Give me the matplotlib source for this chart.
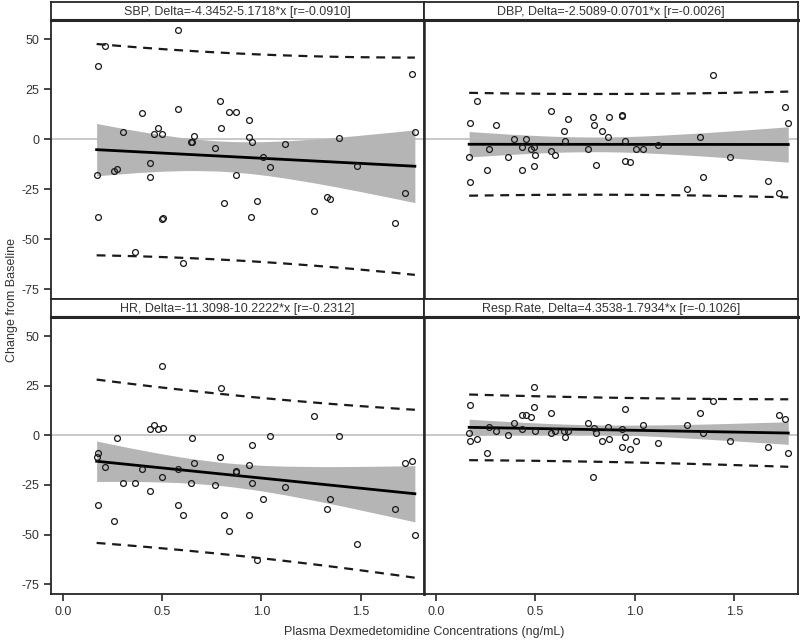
import numpy as np
import matplotlib
matplotlib.use('Agg')
import matplotlib.pyplot as plt

plt.rcParams['axes.unicode_minus'] = False
plt.rcParams['font.family'] = ['Liberation Sans', 'DejaVu Sans']

# panel titles and fitted coefficients
names  = ['SBP', 'DBP', 'HR', 'Resp.Rate']
b0s    = [-4.3452, -2.5089, -11.3098, 4.3538]
b1s    = [-5.1718, -0.0701, -10.2222, -1.7934]
rs     = [-0.0910, -0.0026, -0.2312, -0.1026]

# data
sbp_x = [0.582,0.212,0.175,1.758,0.791,0.579,0.837,0.874,0.397,0.938,0.481,0.796,0.303,0.458,0.498,
         0.663,0.938,1.394,1.774,0.646,0.652,0.955,1.12,0.768,1.008,1.044,1.483,0.438,0.17,0.87,
         0.271,0.259,0.438,1.726,1.33,1.347,0.978,0.81,1.266,0.175,0.502,0.498,0.949,1.673,0.364,0.603]
sbp_y = [54.5,46.5,36.5,32.5,19,15,13.7,13.7,13,9.8,5.7,5.7,3.7,2.8,2.8,
         1.7,1,0.8,3.7,-1.2,-1.2,-1.2,-2.3,-4.3,-9,-13.8,-13.2,-11.8,-17.8,-17.8,
         -15,-15.8,-19,-27,-29,-30,-31,-31.8,-35.8,-39,-39.2,-40,-39,-41.8,-56.7,-61.8]

dbp_x = [1.391,0.207,1.756,0.576,0.662,0.79,0.87,0.934,0.934,0.17,0.301,0.793,1.771,0.645,0.833,
         0.867,1.328,0.394,0.455,0.648,0.951,1.116,0.268,0.434,0.478,0.495,0.766,1.005,1.04,0.579,
         0.599,0.498,0.167,0.36,1.48,0.948,0.975,0.806,0.495,0.256,0.434,1.343,1.67,0.17,1.263,1.722]
dbp_y = [32,19.3,16,14,10,11.3,11.3,12,11.7,8.2,7.3,7.3,8.2,4,4,
         1.3,1.3,0,0,-0.7,-0.7,-2.8,-4.7,-4,-4.7,-4,-4.7,-4.7,-4.7,-6,
         -8,-8,-8.7,-8.7,-8.7,-10.8,-11.5,-12.7,-13.5,-15.5,-15.5,-18.7,-20.7,-21.5,-24.7,-26.7]

hr_x = [0.498,0.796,1.266,0.438,0.458,0.481,0.502,0.271,0.652,1.044,1.394,0.951,0.175,0.17,0.791,
        1.726,1.758,0.212,0.938,0.663,0.397,0.579,0.874,0.87,0.498,0.303,0.364,0.646,0.955,0.768,
        1.12,0.438,1.008,1.347,0.175,0.582,1.33,1.673,0.603,0.81,0.938,0.259,0.837,1.774,1.483,0.978]
hr_y = [34.9,23.8,9.9,3,5,3,3.7,-1.2,-1.2,-0.3,-0.3,-5,-9,-11,-11,
        -14,-13,-15.8,-15.1,-14,-17,-17,-17.8,-18.5,-21,-24,-24,-24,-24,-25.2,
        -26,-28,-32,-32,-35.2,-35.2,-37.2,-37.2,-40,-40,-40,-43.3,-48.2,-50.2,-55,-63]

rr_x = [0.495,0.17,0.495,0.948,0.576,1.328,0.434,0.455,0.478,1.391,1.722,1.756,0.394,0.766,1.04,
        1.263,0.268,0.867,0.793,0.934,0.434,0.301,0.498,0.599,0.579,0.645,0.662,0.806,1.343,0.167,
        0.36,0.648,0.951,0.17,0.207,0.833,0.87,1.005,1.48,1.116,0.934,0.975,1.67,0.256,1.771,0.79]
rr_y = [24.2,15.4,14.1,13.4,11.4,11.4,10.1,10.1,9.4,17.4,10.1,8.1,6,6,5.4,
        5.4,4,4,3.5,3.4,3.4,2,2,2,1.3,2,2,1.3,1.3,1.3,
        0,-0.7,-0.7,-2.7,-2,-2.7,-2,-2.7,-2.7,-4,-6,-6.7,-6,-8.7,-8.7,-20.8]

xs = [sbp_x, dbp_x, hr_x, rr_x]
ys = [sbp_y, dbp_y, hr_y, rr_y]

W, H = 800, 644
fig = plt.figure(figsize=(W/100, H/100), dpi=100)

# pixel boxes of the columns / rows
cols = [(51, 424), (424, 798)]
rows = [(2, 20, 299), (299, 317, 594)]   # header top, plot top, plot bottom
edge = '#262626'
tcol = '#333333'

for k in range(4):
    r, c = divmod(k, 2)
    x0, x1 = cols[c]
    ht, pt, pb = rows[r]
    # header strip
    hax = fig.add_axes([x0/W, 1-pt/H, (x1-x0)/W, (pt-ht)/H])
    hax.set_xticks([]); hax.set_yticks([])
    for s in hax.spines.values():
        s.set_linewidth(1.3); s.set_color(edge)
    hax.spines['bottom'].set_linewidth(2.2)
    hax.text(0.5, 0.45, '%s, Delta=%.4f%+.4f*x [r=%.4f]' % (names[k], b0s[k], b1s[k], rs[k]),
             ha='center', va='center', fontsize=9, color=tcol, transform=hax.transAxes)

    ax = fig.add_axes([x0/W, 1-pb/H, (x1-x0)/W, (pb-pt)/H])
    x = np.array(xs[k]); y = np.array(ys[k])
    n = len(x)
    b0, b1 = b0s[k], b1s[k]
    s = np.sqrt(np.sum((y - b0 - b1*x)**2)/(n-2))
    t = 2.015
    xm = x.mean(); sxx = np.sum((x-xm)**2)
    xg = np.sort(np.unique(x))
    fit = b0 + b1*xg
    ci = t*s*np.sqrt(1.0/n + (xg-xm)**2/sxx)
    pi = t*s*np.sqrt(1 + 1.0/n + (xg-xm)**2/sxx)

    ax.axhline(0, color='#c4c4c4', lw=1.3, zorder=1)
    ax.fill_between(xg, fit-ci, fit+ci, color='#b5b5b5', lw=0, zorder=2)
    ax.plot(xg, fit+pi, color='#1a1a1a', lw=1.6, ls=(0, (4, 3)), zorder=3)
    ax.plot(xg, fit-pi, color='#1a1a1a', lw=1.6, ls=(0, (4, 3)), zorder=3)
    ax.plot(xg, fit, color='black', lw=2.0, zorder=4)
    ax.plot(x, y, 'o', mfc='none', mec='#1a1a1a', ms=4.2, mew=0.9, zorder=5)

    ax.set_xlim(-0.06, 1.82)
    ax.set_ylim(-80, 59.7)
    ax.set_xticks([0.0, 0.5, 1.0, 1.5])
    ax.set_yticks([50, 25, 0, -25, -50, -75])
    ax.tick_params(direction='out', length=5, width=1.2, color=edge,
                   labelsize=9, labelcolor=tcol)
    if c == 1:
        ax.tick_params(axis='y', left=False, labelleft=False)
    if r == 0:
        ax.tick_params(axis='x', bottom=False, labelbottom=False)
    else:
        ax.set_xticklabels(['0.0', '0.5', '1.0', '1.5'])
    for sp in ax.spines.values():
        sp.set_linewidth(1.3); sp.set_color(edge)
    ax.spines['top'].set_linewidth(2.2)
    if c == 0:
        ax.spines['right'].set_linewidth(1.8)
    else:
        ax.spines['left'].set_linewidth(1.8)

fig.text(12/W, 1-300/H, 'Change from Baseline', rotation=90, ha='center', va='center',
         fontsize=9, color=tcol)
fig.text(424/W, 1-632/H, 'Plasma Dexmedetomidine Concentrations (ng/mL)', ha='center',
         va='center', fontsize=9, color=tcol)

fig.savefig('out.png', dpi=100)
